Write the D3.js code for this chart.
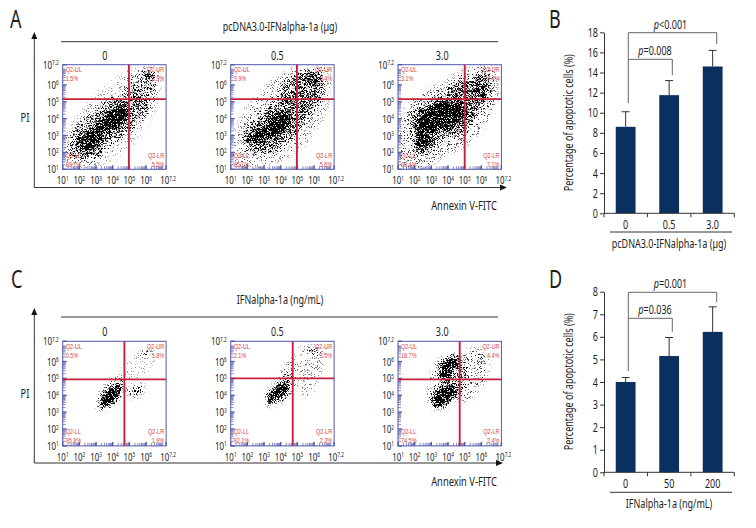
<!DOCTYPE html>
<html><head><meta charset="utf-8">
<script src="https://d3js.org/d3.v7.min.js"></script>
<style>
html,body{margin:0;padding:0;background:#fff}
text{font-family:"Noto Sans","Open Sans",sans-serif;fill:#1c1c1c}
</style></head><body><svg id="c" width="756" height="528"></svg>
<script>
// ---- flow-cytometry panels: gate values and quadrant percentages
const doseLabels = ["0","0.5","3.0"];
const titleA = "pcDNA3.0-IFNalpha-1a (µg)";
const titleC = "IFNalpha-1a (ng/mL)";
const quadNames = ["Q2-UL","Q2-UR","Q2-LL","Q2-LR"];
const pctA = [["1.5%","3.3%","89.7%","5.5%"],["3.9%","5.4%","85.1%","5.6%"],["3.1%","9.4%","80.4%","7.1%"]];
const pctC = [["0.5%","1.8%","95.8%","1.9%"],["2.1%","3.5%","92.1%","2.3%"],["18.7%","4.4%","74.5%","2.4%"]];
const gatesA = [[4.97,5.16],[4.97,5.16],[5.0,5.16]];
const gatesC = [[4.7,4.94],[4.72,5.0],[4.7,4.94]];
// ---- event clouds: outlines in log10 units, each with a density 0..1
const cloudA0 = [
 [.15,[[1.24,1.16],[1.08,2.76],[2.24,4.76],[4.04,6.36],[5.24,7.06],[6.64,7.06],[6.84,5.36],[6.04,3.56],[4.84,2.16],[3.24,1.16]]],
 [.35,[[4.84,5.36],[5.04,6.36],[5.84,6.86],[6.4,6.86],[6.34,5.36]]],
 [.45,[[1.54,1.76],[1.34,2.66],[2.24,3.86],[3.24,4.76],[4.24,5.46],[5.24,5.36],[6.34,5.26],[6.14,4.56],[5.24,3.46],[4.04,2.56],[2.84,1.56]]],
 [.6,[[2.7,2.5],[3.0,3.7],[3.9,4.5],[4.5,3.7],[3.7,2.9]]],
 [.9,[[1.88,2.66],[2.44,3.16],[3.24,3.26],[3.04,2.26],[2.44,2.0],[1.94,2.26]]],
 [1,[[3.34,3.46],[3.64,4.16],[4.24,4.72],[4.88,4.8],[4.94,4.26],[4.54,3.72],[3.94,3.36]]],
 [.8,[[5.74,6.4],[6.14,6.72],[6.4,6.6],[6.24,6.3]]]];
const cloudA1 = [
 [.2,[[1.16,1.26],[1.12,2.96],[2.36,5.16],[4.16,6.76],[5.36,7.06],[6.76,7.06],[6.96,5.16],[6.06,3.16],[4.56,1.76],[2.96,1.06]]],
 [.5,[[1.66,2.76],[2.56,4.06],[3.76,5.26],[4.36,6.26],[5.16,6.76],[6.26,6.76],[6.46,5.36],[5.76,4.26],[4.76,2.96],[3.36,1.96],[1.96,2.16]]],
 [.75,[[2.06,2.96],[2.56,3.36],[3.26,3.36],[3.16,2.76],[2.46,2.56],[2.0,2.66]]],
 [.95,[[3.06,3.26],[3.56,4.16],[4.36,4.46],[4.56,3.76],[4.16,3.26],[3.36,2.96]]],
 [.7,[[5.46,6.46],[6.06,6.76],[6.36,6.56],[6.06,6.16]]]];
const cloudA2 = [
 [.25,[[1.2,1.16],[1.1,3.96],[2.1,5.36],[3.7,6.16],[5.1,7.0],[6.7,7.1],[7.0,5.7],[6.5,3.96],[5.3,2.56],[3.7,1.76],[2.5,1.06]]],
 [.55,[[1.9,2.76],[1.9,4.16],[2.9,5.06],[3.9,5.46],[4.5,6.16],[5.5,6.36],[6.3,6.76],[6.5,6.16],[6.3,5.26],[5.7,4.26],[4.9,3.16],[3.5,2.76],[2.7,1.96],[2.0,2.06]]],
 [.95,[[2.2,2.96],[2.3,3.96],[3.1,4.76],[4.7,4.86],[5.0,4.16],[4.3,3.56],[3.3,3.36],[2.7,2.36],[2.2,2.26]]],
 [.9,[[5.6,5.76],[6.0,5.96],[6.3,5.76],[6.1,5.36],[5.7,5.36]]]];
const cloudC0 = [
 [.12,[[4.44,5.44],[5.24,6.44],[6.64,6.74],[6.54,5.84],[5.84,4.84],[4.84,4.84]]],
 [.3,[[3.04,3.64],[4.04,5.04],[4.64,5.08],[4.64,4.04],[3.84,3.24],[3.14,3.14]]],
 [.35,[[4.84,4.34],[5.44,4.64],[5.94,4.54],[5.64,3.94],[5.04,3.84]]],
 [1,[[3.24,3.54],[3.54,4.14],[4.14,4.64],[4.48,4.68],[4.44,4.14],[3.94,3.54],[3.34,3.28]]],
 [.6,[[5.64,6.48],[6.14,6.68],[6.24,6.48],[5.74,6.44]]]];
const cloudC1 = [
 [.18,[[4.72,6.0],[5.16,6.9],[6.46,6.9],[6.56,5.8],[6.16,4.6],[5.56,3.8],[4.96,4.4],[4.72,5.0]]],
 [.25,[[3.96,5.1],[4.36,6.0],[4.76,6.0],[4.66,5.0]]],
 [.3,[[3.0,3.6],[3.96,5.0],[4.66,5.2],[4.66,4.2],[3.96,3.5],[3.26,3.36]]],
 [1,[[3.16,3.8],[3.56,4.4],[4.26,4.8],[4.52,4.6],[4.36,4.1],[3.76,3.7],[3.32,3.5]]],
 [.7,[[5.66,6.6],[6.06,6.76],[6.36,6.6],[5.96,6.48]]]];
const cloudC2 = [
 [.25,[[4.8,6.24],[5.3,6.84],[6.4,6.44],[6.4,5.44],[6.1,4.64],[5.1,3.64],[4.7,3.64]]],
 [.3,[[2.9,3.44],[3.2,5.84],[4.7,6.44],[5.1,5.04],[4.5,3.84],[3.4,3.14]]],
 [1,[[3.06,3.64],[3.5,4.34],[4.3,4.74],[4.5,4.14],[3.9,3.54],[3.3,3.28]]],
 [1,[[3.54,4.94],[3.6,5.84],[3.9,6.14],[4.8,6.24],[4.6,5.84],[4.2,5.44],[4.1,4.94],[3.7,4.84]]]];
// ---- bar panels
const catsB = ["0","0.5","3.0"];
const meanB = [8.6,11.75,14.6];
const topB = [10.1,13.2,16.2];
const ticksB = [0,2,4,6,8,10,12,14,16,18];
const xTitleB = "pcDNA3.0-IFNalpha-1a (µg)";
const sigB = ["<0.001","=0.008"];
const catsD = ["0","50","200"];
const meanD = [4.0,5.15,6.22];
const topD = [4.2,5.97,7.33];
const ticksD = [0,1,2,3,4,5,6,7,8];
const xTitleD = "IFNalpha-1a (ng/mL)";
const sigD = ["=0.001","=0.036"];
const yTitle = "Percentage of apoptotic cells (%)";
const logTicks = [1,2,3,4,5,6,7.2];

const svg = d3.select("#c");
const defs = svg.append("defs");
const NARROW=.72;
// condensed text: the face is narrowed horizontally
function txt(x,y,anchor,size,rot){
  return svg.append("text").attr("transform",`translate(${x},${y})${rot?` rotate(${rot})`:""} scale(${NARROW},1)`)
    .attr("text-anchor",anchor).attr("font-size",size);
}
// speckle texture that turns a density outline into stippled events
const f = defs.append("filter").attr("id","speckle").attr("filterUnits","userSpaceOnUse")
  .attr("x",0).attr("y",0).attr("width",756).attr("height",528)
  .attr("color-interpolation-filters","sRGB");
f.append("feGaussianBlur").attr("in","SourceAlpha").attr("stdDeviation",2.4).attr("result","d");
f.append("feTurbulence").attr("type","fractalNoise").attr("baseFrequency",1.7).attr("numOctaves",1).attr("seed",7).attr("result","t");
f.append("feColorMatrix").attr("in","t").attr("type","matrix")
  .attr("values","0 0 0 0 0  0 0 0 0 0  0 0 0 0 0  3 0 0 0 -0.98").attr("result","n");
f.append("feComposite").attr("in","d").attr("in2","n").attr("operator","arithmetic")
  .attr("k1",0).attr("k2",1).attr("k3",1).attr("k4",-1).attr("result","s");
f.append("feComponentTransfer").attr("in","s").attr("result","a").append("feFuncA").attr("type","linear").attr("slope",3.2).attr("intercept",0);
f.append("feGaussianBlur").attr("in","a").attr("stdDeviation",.3);

const BLUE="#5158a8", RED="#c8203c", LBL="#d9413f", DARK="#333", GREY="#666";
const W=103.4, H=104.6, colX=[62.7,230.7,398];

function sup(sel,exp){
  sel.append("tspan").text("10");
  sel.append("tspan").attr("dy",-3.5).attr("font-size",6.5).text(exp);
}
function dotPlot(x0,y0,cloud,gate,pcts,idx){
  const x=d3.scaleLinear().domain([1,7.2]).range([x0,x0+W]);
  const y=d3.scaleLinear().domain([1,7.2]).range([y0+H,y0]);
  const id="clip"+idx;
  defs.append("clipPath").attr("id",id).append("rect").attr("x",x0).attr("y",y0).attr("width",W).attr("height",H);
  const shape=d3.line().x(d=>x(d[0])).y(d=>y(d[1])).curve(d3.curveCatmullRomClosed.alpha(.5));
  svg.append("g").attr("clip-path",`url(#${id})`).append("g").attr("filter","url(#speckle)")
    .selectAll("path").data(cloud).join("path").attr("d",d=>shape(d[1])).attr("fill","#000").attr("fill-opacity",d=>d[0]);
  // log axes
  const minor=[]; for(let k=1;k<7;k++) for(let m=2;m<10;m++) minor.push(k+Math.log10(m));
  [[d3.axisBottom(x),y0+H],[d3.axisLeft(y),x0]].forEach(([ax,pos],i)=>{
    const g=svg.append("g").attr("transform",i?`translate(${pos},0)`:`translate(0,${pos})`);
    g.call(ax.tickValues(minor).tickSize(3).tickSizeOuter(0).tickFormat(""));
    g.selectAll("line").attr("stroke",BLUE).attr("stroke-width",.7).attr(i?"x2":"y2",i?3:-3);
    g.select(".domain").remove();
    g.selectAll(".maj").data(logTicks).join("line").attr("class","maj").attr("stroke",BLUE).attr("stroke-width",1.4)
      .each(function(d){const s=d3.select(this);
        if(i) s.attr("x1",0).attr("x2",4).attr("y1",y(d)).attr("y2",y(d));
        else s.attr("y1",0).attr("y2",-4).attr("x1",x(d)).attr("x2",x(d));});
  });
  svg.append("rect").attr("x",x0).attr("y",y0).attr("width",W).attr("height",H).attr("fill","none").attr("stroke",BLUE).attr("stroke-width",1);
  // gates
  svg.append("line").attr("x1",x0).attr("x2",x0+W).attr("y1",y(gate[1])).attr("y2",y(gate[1])).attr("stroke",RED).attr("stroke-width",1.7);
  svg.append("line").attr("y1",y0).attr("y2",y0+H).attr("x1",x(gate[0])).attr("x2",x(gate[0])).attr("stroke",RED).attr("stroke-width",1.9);
  // quadrant labels
  const pos=[[x0+3,y0+7.6,"start"],[x0+W-2,y0+7.6,"end"],[x0+3,y0+H-11.5,"start"],[x0+W-2,y0+H-11.5,"end"]];
  pos.forEach((p,i)=>{
    txt(p[0],p[1],p[2],7.6).style("font-family","Liberation Sans").style("fill",LBL).text(quadNames[i]);
    txt(p[0],p[1]+8.9,p[2],7.6).style("font-family","Liberation Sans").style("fill",LBL).text(pcts[i]);
  });
  // tick labels
  logTicks.forEach(t=>{
    const e=t===7.2?"7.2":String(t);
    txt(x(t)+(t===7.2?2:0),y0+H+15,"middle",11).call(sup,e);
    txt(x0-4,y(t)+4,"end",11).call(sup,e);
  });
}
function frame(yTop,rule,titleY,title,lblY,axTop,axBot,tip,piY,annY,clouds,gates,pcts,base){
  svg.append("line").attr("x1",61).attr("x2",498).attr("y1",rule).attr("y2",rule).attr("stroke",DARK).attr("stroke-width",1);
  txt(280,titleY,"middle",12.5).text(title);
  doseLabels.forEach((d,i)=>txt(colX[i]+W/2+(i==2?-7.5:i==1?-5:-9.5),lblY,"middle",12.5).text(d));
  svg.append("path").attr("d",`M34.3 ${axTop+6}V${axBot}H${tip-6}`).attr("fill","none").attr("stroke",DARK).attr("stroke-width",1);
  svg.append("path").attr("d",`M34.3 ${axTop}l-3 7h6z`).attr("fill","#111");
  svg.append("path").attr("d",`M${tip} ${axBot}l-7 -3v6z`).attr("fill","#111");
  txt(25,piY,"middle",13).text("PI");
  txt(464,annY,"middle",13).text("Annexin V-FITC");
  clouds.forEach((c,i)=>dotPlot(colX[i],yTop,c,gates[i],pcts[i],base+i));
}
frame(64.7,41.7,31,titleA,60,32,187.5,507,122,210,[cloudA0,cloudA1,cloudA2],gatesA,pctA,0);
frame(341.3,317,304,titleC,336,308,463,503,398,486,[cloudC0,cloudC1,cloudC2],gatesC,pctC,3);

function barPanel(cats,mean,top,ticks,xTitle,sig,y0,y1,br,xLblY,ruleY,titleY,yMid){
  const x=d3.scaleBand().domain(cats).range([604,734.3]).paddingInner(.545).paddingOuter(.27);
  const step=(734.3-604)/3;
  const y=d3.scaleLinear().domain([0,ticks[ticks.length-1]]).range([y0,y1]);
  svg.selectAll(null).data(cats).join("rect").attr("x",d=>x(d)).attr("width",x.bandwidth())
    .attr("y",(d,i)=>y(mean[i])).attr("height",(d,i)=>y0-y(mean[i])).attr("fill","#0b2f5e");
  cats.forEach((c,i)=>{
    const cx=x(c)+x.bandwidth()/2;
    svg.append("path").attr("d",`M${cx} ${y(mean[i])}V${y(top[i])}M${cx-4} ${y(top[i])}H${cx+4}`).attr("stroke",DARK).attr("fill","none").attr("stroke-width",1);
  });
  const ya=d3.axisLeft(y).tickValues(ticks).tickSize(4).tickSizeOuter(0).tickFormat(d3.format("d"));
  const yg=svg.append("g").attr("transform","translate(604,0)").call(ya);
  yg.selectAll("text").attr("font-size",12.5).attr("x",-6/NARROW).attr("transform",`scale(${NARROW},1)`);
  yg.selectAll("line,path").attr("stroke",DARK);
  const xg=svg.append("g").attr("transform",`translate(0,${y0})`);
  xg.append("line").attr("x1",604).attr("x2",734.3).attr("stroke",DARK);
  d3.range(4).forEach(i=>xg.append("line").attr("x1",604+i*step).attr("x2",604+i*step).attr("y2",4).attr("stroke",DARK));
  cats.forEach(c=>txt(x(c)+x.bandwidth()/2,xLblY,"middle",12.5).text(c));
  svg.append("line").attr("x1",610).attr("x2",732).attr("y1",ruleY).attr("y2",ruleY).attr("stroke",DARK);
  txt(669,titleY,"middle",12.5).text(xTitle);
  txt(573,yMid,"middle",12.5,-90).text(yTitle);
  // significance brackets
  const a=628.3;
  const p=(px,py,s)=>{const t=txt(px,py,"middle",12.5);
    t.append("tspan").attr("font-style","italic").text("p"); t.append("tspan").text(s);};
  svg.append("path").attr("d",`M${a} ${br.stem}V${br.top}H716.7V${br.topEnd}`).attr("fill","none").attr("stroke",GREY);
  svg.append("path").attr("d",`M${a} ${br.low}H672.3V${br.lowEnd}`).attr("fill","none").attr("stroke",GREY);
  p(670.5,br.top-4,sig[0]); p(655,br.low-4.5,sig[1]);
}
barPanel(catsB,meanB,topB,ticksB,xTitleB,sigB,213.3,32.3,{stem:103,top:32.7,topEnd:44,low:59.3,lowEnd:75},228.5,232,248,122.7);
barPanel(catsD,meanD,topD,ticksD,xTitleD,sigD,472.3,291.7,{stem:371,top:292.3,topEnd:302,low:318.3,lowEnd:331.7},487.5,492.3,508,381.7);

[["A",10,28],["B",549,28],["C",11,288],["D",549,288]].forEach(l=>
  txt(l[1],l[2],"start",25).text(l[0]));
</script></body></html>
